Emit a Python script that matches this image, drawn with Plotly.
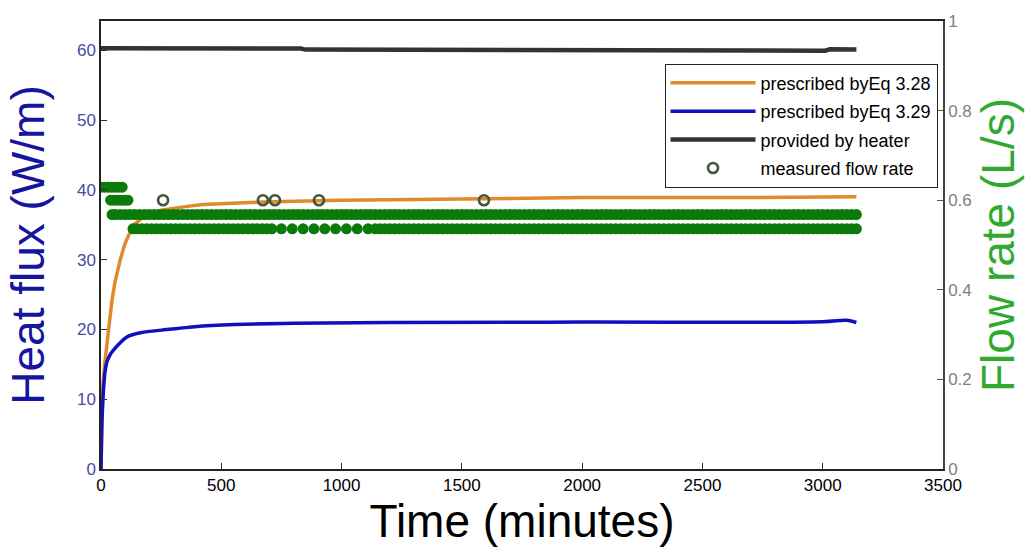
import plotly.graph_objects as go

# ---------------- data ----------------
# Heat flux prescribed by Eq 3.28 (orange)
t_eq328 = [0, 3, 8, 15, 29, 45, 58, 80, 100, 133, 180, 250, 350, 424, 673,
           1000, 1500, 2000, 2700, 3140]
q_eq328 = [0, 8, 12, 15, 19.7, 24, 26.8, 30, 32.3, 34.9, 36.2, 37.1, 37.6, 37.9, 38.25,
           38.5, 38.7, 38.9, 38.9, 39.0]

# Heat flux prescribed by Eq 3.29 (blue)
t_eq329 = [0, 2, 4, 8, 12, 17, 25, 40, 58, 80, 112, 160, 253, 390, 557,
           800, 1200, 2000, 3000, 3100, 3140]
q_eq329 = [0, 4, 7, 10, 12.2, 14.0, 15.4, 16.5, 17.3, 18.1, 19.0, 19.5, 19.9, 20.4, 20.7,
           20.9, 21.0, 21.05, 21.1, 21.3, 21.0]

# Heat flux provided by heater (black)
t_heater = [0, 50, 830, 850, 2650, 2670, 3010, 3030, 3140]
q_heater = [60.3, 60.3, 60.25, 60.1, 60.1, 59.95, 59.95, 60.15, 60.1]

# Measured flow rate (L/s), grouped by the logged level
flow_levels = [0.629, 0.600, 0.568, 0.536]
t_flow_0629 = [0, 15, 30, 45, 60, 75, 88]
t_flow_0600 = [40, 55, 70, 85, 100, 112]
t_flow_0568 = [46, 60, 80, 100, 120, 140, 160, 180, 200, 220, 240,
               260, 280, 300, 320, 340, 360, 380, 400, 420, 440,
               460, 480, 500, 520, 540, 560, 580, 600, 620, 640,
               660, 680, 700, 720, 740, 760, 780, 800, 820, 840,
               860, 880, 900, 920, 940, 960, 980, 1000, 1020, 1040,
               1060, 1080, 1100, 1120, 1140, 1160, 1180, 1200, 1220, 1240,
               1260, 1280, 1300, 1320, 1340, 1360, 1380, 1400, 1420, 1440,
               1460, 1480, 1500, 1520, 1540, 1560, 1580, 1600, 1620, 1640,
               1660, 1680, 1700, 1720, 1740, 1760, 1780, 1800, 1820, 1840,
               1860, 1880, 1900, 1920, 1940, 1960, 1980, 2000, 2020, 2040,
               2060, 2080, 2100, 2120, 2140, 2160, 2180, 2200, 2220, 2240,
               2260, 2280, 2300, 2320, 2340, 2360, 2380, 2400, 2420, 2440,
               2460, 2480, 2500, 2520, 2540, 2560, 2580, 2600, 2620, 2640,
               2660, 2680, 2700, 2720, 2740, 2760, 2780, 2800, 2820, 2840,
               2860, 2880, 2900, 2920, 2940, 2960, 2980, 3000, 3020, 3040,
               3060, 3080, 3100, 3120, 3140]
t_flow_0536 = [133, 150, 170, 190, 210, 230, 250, 270, 290, 310,
               330, 350, 370, 390, 410, 430, 450, 470, 490, 510,
               530, 550, 570, 590, 610, 630, 650, 670, 690, 710,
               750, 795, 840, 885, 930, 975, 1020, 1065, 1110,
               1140, 1160, 1180, 1200, 1220, 1240, 1260, 1280, 1300, 1320,
               1340, 1360, 1380, 1400, 1420, 1440, 1460, 1480, 1500, 1520,
               1540, 1560, 1580, 1600, 1620, 1640, 1660, 1680, 1700, 1720,
               1740, 1760, 1780, 1800, 1820, 1840, 1860, 1880, 1900, 1920,
               1940, 1960, 1980, 2000, 2020, 2040, 2060, 2080, 2100, 2120,
               2140, 2160, 2180, 2200, 2220, 2240, 2260, 2280, 2300, 2320,
               2340, 2360, 2380, 2400, 2420, 2440, 2460, 2480, 2500, 2520,
               2540, 2560, 2580, 2600, 2620, 2640, 2660, 2680, 2700, 2720,
               2740, 2760, 2780, 2800, 2820, 2840, 2860, 2880, 2900, 2920,
               2940, 2960, 2980, 3000, 3020, 3040, 3060, 3080, 3100, 3120,
               3140]
# isolated readings (open circles)
t_flow_iso = [258, 673, 723, 906, 1592]
f_flow_iso = [0.600, 0.600, 0.600, 0.600, 0.600]

x_ticks = [0, 500, 1000, 1500, 2000, 2500, 3000, 3500]
y_ticks = [0, 10, 20, 30, 40, 50, 60]
y2_ticks = [0, 0.2, 0.4, 0.6, 0.8, 1]

# ---------------- figure ----------------
FONT = "Liberation Sans, Arial, Helvetica, sans-serif"

band_t = t_flow_0629 + t_flow_0600 + t_flow_0568 + t_flow_0536
band_f = ([flow_levels[0]] * len(t_flow_0629) + [flow_levels[1]] * len(t_flow_0600)
          + [flow_levels[2]] * len(t_flow_0568) + [flow_levels[3]] * len(t_flow_0536))

fig = go.Figure()
fig.add_trace(go.Scatter(x=t_eq328, y=q_eq328, mode="lines", name="prescribed byEq 3.28",
                         line=dict(color="#e08a2a", width=3.5), legendgroup="a"))
fig.add_trace(go.Scatter(x=t_eq329, y=q_eq329, mode="lines", name="prescribed byEq 3.29",
                         line=dict(color="#1010c0", width=3.5, shape="spline"),
                         legendgroup="b"))
fig.add_trace(go.Scatter(x=t_heater, y=q_heater, mode="lines", name="provided by heater",
                         line=dict(color="#333333", width=4.5), legendgroup="c"))
fig.add_trace(go.Scatter(x=band_t, y=band_f, mode="markers", yaxis="y2", showlegend=False,
                         marker=dict(symbol="circle", size=11, color="#0b7a0b",
                                     line=dict(width=0))))
fig.add_trace(go.Scatter(x=t_flow_iso, y=f_flow_iso, mode="markers", yaxis="y2",
                         name="measured flow rate", legendgroup="d",
                         marker=dict(symbol="circle-open", size=10, color="#43573f",
                                     line=dict(width=2.6))))

fig.update_layout(
    width=1034, height=556,
    margin=dict(l=101, r=91, t=15, b=87),
    paper_bgcolor="white", plot_bgcolor="white",
    font=dict(family=FONT, size=17, color="black"),
    showlegend=True,
    legend=dict(x=0.9935, y=0.905, xanchor="right", yanchor="top",
                bgcolor="white", bordercolor="#222222", borderwidth=1,
                font=dict(size=18, color="black"), tracegroupgap=2,
                traceorder="grouped", itemwidth=85),
    xaxis=dict(range=[0, 3500], tickvals=x_ticks, ticks="inside", ticklen=6,
               tickcolor="#333", showline=True, linecolor="#222", linewidth=1.5,
               mirror=True, showgrid=False, zeroline=False,
               tickfont=dict(size=17, color="black"),
               title=dict(text="Time (minutes)", font=dict(size=46, color="black"),
                          standoff=6)),
    yaxis=dict(range=[0, 64.2], tickvals=y_ticks, ticks="inside", ticklen=6,
               tickcolor="#333", showline=True, linecolor="#222", linewidth=1.5,
               showgrid=False, zeroline=False,
               tickfont=dict(size=17, color="#4a4aa5"),
               title=dict(text="Heat flux (W/m)", font=dict(size=46, color="#1515a0"),
                          standoff=18)),
    yaxis2=dict(range=[0, 1], tickvals=y2_ticks, overlaying="y", side="right",
                ticks="inside", ticklen=6, tickcolor="#555", showline=True,
                linecolor="#444", linewidth=1.5, showgrid=False, zeroline=False,
                tickfont=dict(size=17, color="#808080"),
                title=dict(text="Flow rate (L/s)", font=dict(size=46, color="#2faa2f"),
                           standoff=8)),
)

fig.write_html("out.html")
